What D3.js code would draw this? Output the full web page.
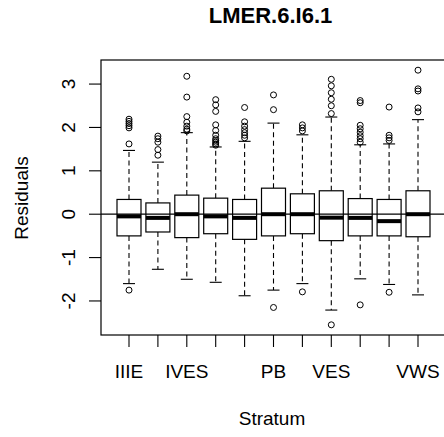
<!DOCTYPE html>
<html><head><meta charset="utf-8">
<script src="https://cdnjs.cloudflare.com/ajax/libs/d3/7.8.5/d3.min.js"></script>
<style>body{margin:0;background:#fff}svg{display:block}text{font-family:"Liberation Sans",Arial,sans-serif;fill:#000}</style>
</head><body>
<script>
const categories = ["IIIE","IIIW","IVES","IVW","IVWS","PB","VE","VES","VW","VWE","VWS"];
const tickLabels = ["IIIE","","IVES","","","PB","","VES","","","VWS"];
const lowerWhisker = [-1.60,-1.27,-1.50,-1.57,-1.88,-1.75,-1.60,-2.21,-1.49,-1.62,-1.86];
const q1 =           [-0.50,-0.41,-0.54,-0.45,-0.58,-0.50,-0.45,-0.61,-0.50,-0.50,-0.52];
const medians =      [-0.05,-0.085,0.00,-0.05,-0.085,0.00,0.00,-0.08,-0.085,-0.16,0.00];
const q3 =           [0.34,0.26,0.44,0.37,0.34,0.60,0.47,0.54,0.36,0.34,0.54];
const upperWhisker = [1.47,1.20,1.88,1.55,1.68,2.10,1.83,2.24,1.60,1.62,2.18];
const outliers = [
  [2.19,2.14,2.09,2.04,1.99,1.62,-1.75],
  [1.80,1.74,1.66,1.49,1.36],
  [3.18,2.70,2.25,2.12,2.03,1.96,1.92],
  [2.64,2.52,2.37,2.06,1.93,1.82,1.74,1.70,1.66,1.62,1.59],
  [2.46,2.13,2.03,1.95,1.88,1.82,1.76],
  [2.75,2.41,-2.15],
  [2.06,1.99,1.92,-1.79],
  [3.11,2.96,2.80,2.65,2.50,2.32,-2.55],
  [2.62,2.57,2.05,1.97,1.89,1.81,1.74,1.66,-2.09],
  [2.47,1.82,1.76,1.70,-1.80],
  [3.32,2.89,2.84,2.45,2.36]
];
const yTicks = [-2,-1,0,1,2,3];
const title = "LMER.6.I6.1", xTitle = "Stratum", yTitle = "Residuals";

const W = 444, H = 437;
const L = 101, R = 446, T = 60, B = 335;
const svg = d3.select("body").append("svg").attr("width", W).attr("height", H);

const allVals = outliers.flat().concat(lowerWhisker, upperWhisker);
const lo = d3.min(allVals), hi = d3.max(allVals), ext = (hi - lo) * 0.04;
const y = d3.scaleLinear().domain([lo - ext, hi + ext]).range([B, T]);
const x = d3.scaleLinear().domain([1, categories.length]).range([129, 418]);

const data = categories.map((c, i) => ({c, i, lw: lowerWhisker[i], q1: q1[i], med: medians[i], q3: q3[i], uw: upperWhisker[i], out: outliers[i]}));
const bw = 12, cap = 6;

const g = svg.append("g").attr("stroke", "#000").attr("fill", "none");

data.forEach(d => {
  const cx = x(d.i + 1);
  g.append("line").attr("x1", cx).attr("x2", cx).attr("y1", y(d.q3)).attr("y2", y(d.uw)).attr("stroke-width", 1.1).attr("stroke-dasharray", "5,3.5");
  g.append("line").attr("x1", cx).attr("x2", cx).attr("y1", y(d.q1)).attr("y2", y(d.lw)).attr("stroke-width", 1.1).attr("stroke-dasharray", "5,3.5");
  g.append("line").attr("x1", cx - cap).attr("x2", cx + cap).attr("y1", y(d.uw)).attr("y2", y(d.uw)).attr("stroke-width", 1.1);
  g.append("line").attr("x1", cx - cap).attr("x2", cx + cap).attr("y1", y(d.lw)).attr("y2", y(d.lw)).attr("stroke-width", 1.1);
  g.append("rect").attr("x", cx - bw).attr("width", 2 * bw).attr("y", y(d.q3)).attr("height", y(d.q1) - y(d.q3)).attr("fill", "#fff").attr("stroke-width", 1.2);
  g.append("line").attr("x1", cx - bw).attr("x2", cx + bw).attr("y1", y(d.med)).attr("y2", y(d.med)).attr("stroke-width", 4);
  d.out.forEach(v => g.append("circle").attr("cx", cx).attr("cy", y(v)).attr("r", 3).attr("stroke-width", 1));
});

g.append("line").attr("x1", L).attr("x2", R).attr("y1", y(0)).attr("y2", y(0)).attr("stroke-width", 1.2);

g.append("rect").attr("x", L).attr("y", T).attr("width", R - L).attr("height", B - T).attr("stroke-width", 1.2);

yTicks.forEach(t => {
  g.append("line").attr("x1", L - 12).attr("x2", L).attr("y1", y(t)).attr("y2", y(t)).attr("stroke-width", 1.1);
  svg.append("text").attr("transform", `translate(75,${y(t)}) rotate(-90)`).attr("text-anchor", "middle").attr("font-size", 19).text(t);
});
data.forEach(d => {
  const cx = x(d.i + 1);
  g.append("line").attr("x1", cx).attr("x2", cx).attr("y1", B).attr("y2", B + 12).attr("stroke-width", 1.1);
  if (tickLabels[d.i]) svg.append("text").attr("x", cx).attr("y", 378).attr("text-anchor", "middle").attr("font-size", 19).text(tickLabels[d.i]);
});

svg.append("text").attr("x", 270.5).attr("y", 23).attr("text-anchor", "middle").attr("font-size", 22).attr("font-weight", "bold").text(title);
svg.append("text").attr("x", 272).attr("y", 425).attr("text-anchor", "middle").attr("font-size", 19).text(xTitle);
svg.append("text").attr("transform", `translate(28,198) rotate(-90)`).attr("text-anchor", "middle").attr("font-size", 19).text(yTitle);
</script>
</body></html>
